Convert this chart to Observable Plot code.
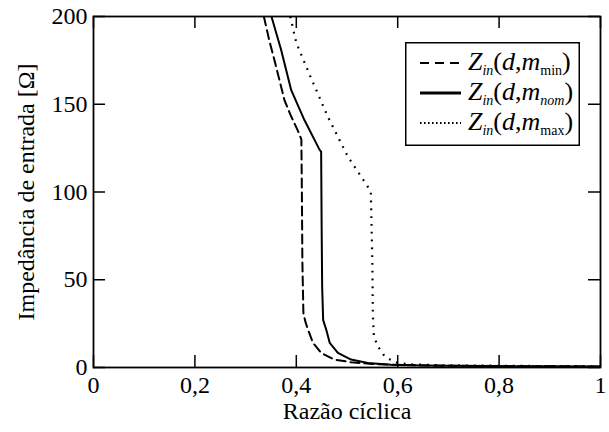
<!DOCTYPE html>
<html>
<head>
<meta charset="utf-8">
<script src="https://cdn.jsdelivr.net/npm/d3@7"></script>
<script src="https://cdn.jsdelivr.net/npm/@observablehq/plot@0.6"></script>
<style>
  html, body { margin: 0; padding: 0; background: #fff; }
  #wrap { position: relative; width: 609px; height: 432px; }
</style>
</head>
<body>
<div id="wrap"></div>
<script>
// ---- Data ----
const xTicks = [0, 0.2, 0.4, 0.6, 0.8, 1];
const xTickLabels = ["0", "0,2", "0,4", "0,6", "0,8", "1"];
const yTicks = [0, 50, 100, 150, 200];
const yTickLabels = ["0", "50", "100", "150", "200"];

// Z_in(d, m_min) — dashed
const dMin = [0.336,0.347,0.357,0.377,0.390,0.403,0.410,0.411,0.412,0.414,0.418,0.423,0.433,0.449,0.475,0.508,0.55,0.60,0.70,0.80,0.90,1.00];
const zMin = [200,186,175,152,143,135,130,100,60,31,26,21.6,14,8.3,4.5,3,2,1.5,1,0.8,0.7,0.6];

// Z_in(d, m_nom) — solid
const dNom = [0.351,0.370,0.390,0.416,0.439,0.446,0.449,0.450,0.451,0.453,0.459,0.466,0.482,0.508,0.541,0.587,0.65,0.70,0.80,0.90,1.00];
const zNom = [200,181,158,141,128,124,123,80,46,27,21.6,14,8.3,4.5,2.6,1.5,1.1,1,0.8,0.7,0.6];

// Z_in(d, m_max) — dotted
const dMax = [0.388,0.400,0.426,0.462,0.502,0.541,0.547,0.550,0.551,0.553,0.561,0.574,0.594,0.62,0.70,0.80,0.90,1.00];
const zMax = [200,185,167,143,120,103,100,60,30,17.8,12,6.4,3,1.8,1.2,1,0.8,0.7];

const seriesNames = ["min", "nom", "max"];

const toRows = (ds, zs) => ds.map((d, i) => ({d, z: zs[i]}));
const rowsMin = toRows(dMin, zMin);
const rowsNom = toRows(dNom, zNom);
const rowsMax = toRows(dMax, zMax);

const FONT = "'Liberation Serif', 'Times New Roman', serif";
const W = 609, H = 432;
const mTop = 16, mBottom = 65, mLeft = 93, mRight = 9;
const plotH = H - mTop - mBottom;
const plotW = W - mLeft - mRight;
const tickLen = 12;

const chart = Plot.plot({
  width: W,
  height: H,
  marginTop: mTop,
  marginBottom: mBottom,
  marginLeft: mLeft,
  marginRight: mRight,
  style: { fontFamily: FONT, fontSize: "24px", color: "#000", background: "#fff" },
  x: { domain: [0, 1] },
  y: { domain: [0, 200] },
  marks: [
    Plot.axisX(xTicks, { tickSize: 0, tickPadding: 8, tickFormat: (d, i) => xTickLabels[i], label: null, fontSize: 24, fontFamily: FONT, fill: "#000" }),
    Plot.axisY(yTicks, { tickSize: 0, tickPadding: 6, tickFormat: (d, i) => yTickLabels[i], label: null, fontSize: 24, fontFamily: FONT, fill: "#000" }),
    // inward ticks on all four sides
    Plot.tickX(xTicks, { x: d => d, insetTop: plotH - tickLen, stroke: "#000", strokeWidth: 1.5 }),
    Plot.tickX(xTicks, { x: d => d, insetBottom: plotH - tickLen, stroke: "#000", strokeWidth: 1.5 }),
    Plot.tickY(yTicks, { y: d => d, insetRight: plotW - tickLen, stroke: "#000", strokeWidth: 1.5 }),
    Plot.tickY(yTicks, { y: d => d, insetLeft: plotW - tickLen, stroke: "#000", strokeWidth: 1.5 }),
    Plot.line(rowsMin, { x: "d", y: "z", stroke: "#000", strokeWidth: 2, strokeDasharray: "9,5", clip: true }),
    Plot.line(rowsNom, { x: "d", y: "z", stroke: "#000", strokeWidth: 2, clip: true }),
    Plot.line(rowsMax, { x: "d", y: "z", stroke: "#000", strokeWidth: 2.2, strokeDasharray: "1.8,6", strokeLinecap: "butt", clip: true }),
    Plot.frame({ stroke: "#000", strokeWidth: 1.8 }),
    Plot.text(["Razão cíclica"], { text: d => d, frameAnchor: "bottom", dy: 51, fontSize: 24, fontFamily: FONT, fill: "#000" }),
    Plot.text(["Impedância de entrada [Ω]"], { text: d => d, frameAnchor: "left", textAnchor: "middle", dx: -67, rotate: -90, fontSize: 24, fontFamily: FONT, fill: "#000" })
  ]
});

const wrap = document.getElementById("wrap");
wrap.appendChild(chart);

// ---- Legend (inside plot, top right) ----
const legendStyles = [
  { dash: "9,6", width: 2 },
  { dash: null, width: 3 },
  { dash: "1.6,2.4", width: 2 }
];
const subs = [
  { text: "min", italic: false },
  { text: "nom", italic: true },
  { text: "max", italic: false }
];
const LW = 175, LH = 104;
const ns = "http://www.w3.org/2000/svg";
const lg = document.createElementNS(ns, "svg");
lg.setAttribute("width", LW);
lg.setAttribute("height", LH);
lg.style.position = "absolute";
lg.style.left = "405px";
lg.style.top = "42px";
const rect = document.createElementNS(ns, "rect");
rect.setAttribute("x", 0.75); rect.setAttribute("y", 0.75);
rect.setAttribute("width", LW - 1.5); rect.setAttribute("height", LH - 1.5);
rect.setAttribute("fill", "#fff"); rect.setAttribute("stroke", "#000"); rect.setAttribute("stroke-width", 1.5);
lg.appendChild(rect);
seriesNames.forEach((name, i) => {
  const base = 28 + i * 30;
  const ln = document.createElementNS(ns, "line");
  ln.setAttribute("x1", 15); ln.setAttribute("x2", 56);
  ln.setAttribute("y1", base - 7); ln.setAttribute("y2", base - 7);
  ln.setAttribute("stroke", "#000");
  ln.setAttribute("stroke-width", legendStyles[i].width);
  if (legendStyles[i].dash) ln.setAttribute("stroke-dasharray", legendStyles[i].dash);
  lg.appendChild(ln);
  const t = document.createElementNS(ns, "text");
  t.setAttribute("x", 63); t.setAttribute("y", base);
  t.setAttribute("font-family", FONT);
  t.setAttribute("font-size", 26);
  t.setAttribute("fill", "#000");
  const sub = subs[i];
  t.innerHTML =
    `<tspan font-style="italic">Z</tspan>` +
    `<tspan font-style="italic" font-size="14" dy="5">in</tspan>` +
    `<tspan dy="-5">(</tspan><tspan font-style="italic">d</tspan>,<tspan font-style="italic">m</tspan>` +
    `<tspan font-size="14" dy="5" font-style="${sub.italic ? "italic" : "normal"}">${sub.text}</tspan>` +
    `<tspan dy="-5">)</tspan>`;
  lg.appendChild(t);
});
wrap.appendChild(lg);
</script>
</body>
</html>
